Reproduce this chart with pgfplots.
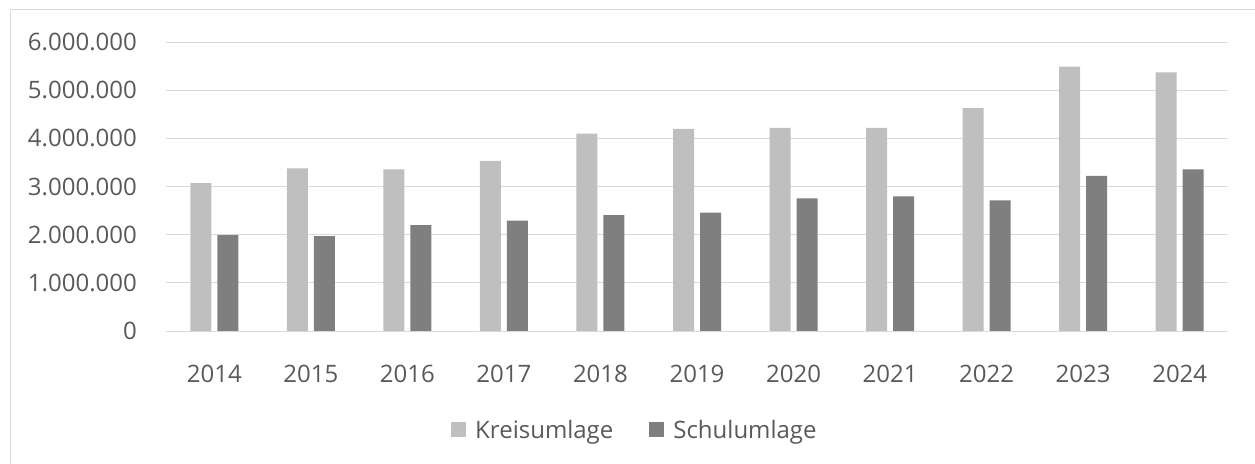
\documentclass[border=0pt]{standalone}
\usepackage{pgfplots}
\pgfplotsset{compat=1.18}
\usepackage{fontspec}
\setmainfont{Open Sans}
\definecolor{txt}{HTML}{595959}
\definecolor{gridc}{HTML}{D9D9D9}
\definecolor{kreis}{HTML}{BFBFBF}
\definecolor{schul}{HTML}{7F7F7F}
\begin{document}
\begin{tikzpicture}
\path[use as bounding box] (0,0) rectangle (1255bp,464bp);
\draw[gridc, line width=1bp] (10bp,0) -- (10bp,454bp) -- (1255bp,454bp);
\begin{axis}[
  at={(166bp,133bp)}, anchor=south west,
  scale only axis, width=1062bp, height=289bp,
  xmin=-0.5, xmax=10.5, ymin=0, ymax=6000000,
  scaled y ticks=false,
  ybar=6bp, bar width=21bp,
  axis line style={draw=none},
  tick style={draw=none},
  ymajorgrids, major grid style={gridc, line width=1bp},
  xtick={0,...,10},
  xticklabels={2014,2015,2016,2017,2018,2019,2020,2021,2022,2023,2024},
  ytick={0,1000000,2000000,3000000,4000000,5000000,6000000},
  yticklabels={0,1.000.000,2.000.000,3.000.000,4.000.000,5.000.000,6.000.000},
  ticklabel style={font=\fontsize{24bp}{28bp}\selectfont, text=txt, inner sep=0pt},
  yticklabel style={anchor=east, xshift=-29bp},
  xticklabel style={anchor=north, yshift=-30bp},
  legend columns=2,
  legend style={at={(0.2684,-0.342)}, anchor=west, draw=none, fill=none,
    inner sep=0pt, font=\fontsize{24bp}{28bp}\selectfont, text=txt,
    nodes={inner sep=0pt},
    /tikz/every even column/.append style={column sep=36bp}},
  legend cell align=left,
  legend image code/.code={\fill[#1] (0bp,-7.5bp) rectangle (15bp,7.5bp); \path (24bp,0bp);},
]
\addplot[fill=kreis, draw=none] coordinates {
(0,3070000) (1,3375000) (2,3354000) (3,3533000) (4,4098000) (5,4194000)
(6,4215000) (7,4215000) (8,4628000) (9,5489000) (10,5372000)};
\addplot[fill=schul, draw=none] coordinates {
(0,1990000) (1,1970000) (2,2197000) (3,2293000) (4,2404000) (5,2459000)
(6,2755000) (7,2796000) (8,2713000) (9,3223000) (10,3354000)};
\legend{Kreisumlage,Schulumlage}
\end{axis}
\end{tikzpicture}
\end{document}
